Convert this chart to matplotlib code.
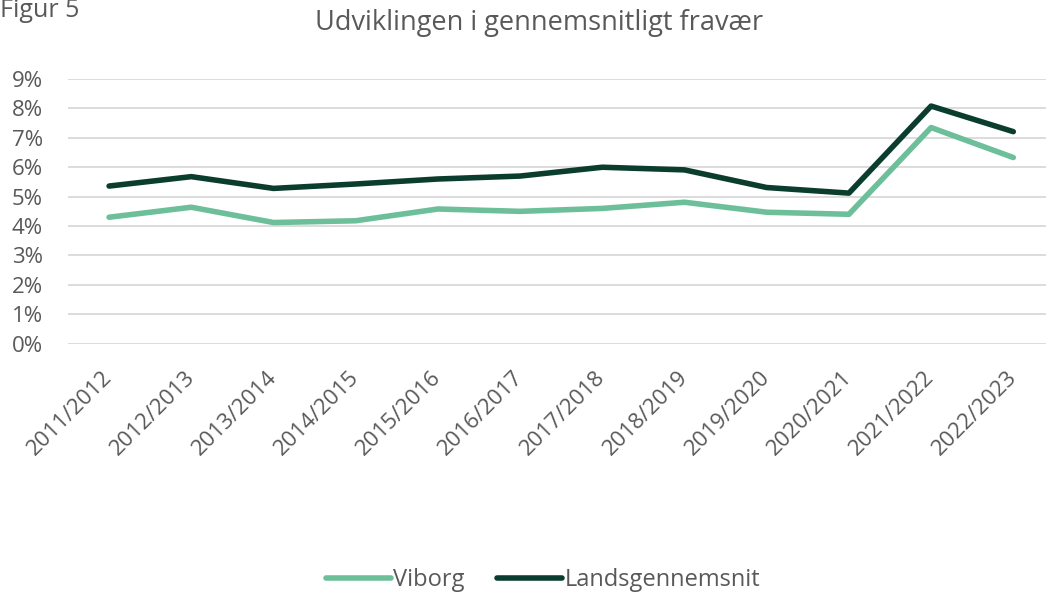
import matplotlib
matplotlib.use("Agg")
import matplotlib.pyplot as plt
from matplotlib.ticker import FuncFormatter, MultipleLocator

categories = ["2011/2012", "2012/2013", "2013/2014", "2014/2015", "2015/2016", "2016/2017",
              "2017/2018", "2018/2019", "2019/2020", "2020/2021", "2021/2022", "2022/2023"]
viborg = [4.30, 4.64, 4.12, 4.18, 4.58, 4.50, 4.60, 4.81, 4.47, 4.40, 7.35, 6.33]
lands = [5.36, 5.68, 5.28, 5.43, 5.60, 5.70, 6.00, 5.91, 5.31, 5.12, 8.08, 7.21]

plt.rcParams['font.family'] = ['Open Sans', 'DejaVu Sans']
txt = '#595959'

fig = plt.figure(figsize=(10.46, 5.95), dpi=100)
ax = fig.add_axes([68/1046, (595-343.7)/595, 1 - 68/1046, (343.7-79)/595])

x = list(range(len(categories)))
ax.plot(x, viborg, color='#6DBF9A', lw=4, label='Viborg', solid_capstyle='round', zorder=3)
ax.plot(x, lands, color='#0B3D2E', lw=4, label='Landsgennemsnit', solid_capstyle='round', zorder=3)

ax.set_ylim(0, 9)
ax.set_xlim(-0.5, -0.5 + 978/82.2)
ax.yaxis.set_major_locator(MultipleLocator(1))
ax.yaxis.set_major_formatter(FuncFormatter(lambda v, p: f"{int(round(v))}%"))
ax.grid(axis='y', color='#d9d9d9', lw=1.3)
ax.set_axisbelow(True)
for s in ax.spines.values():
    s.set_visible(False)
ax.tick_params(length=0, colors=txt)
ax.tick_params(axis='y', pad=18, labelsize=16)
ax.set_xticks(x)
ax.set_xticklabels(categories, rotation=45, ha='right', va='center', rotation_mode='anchor')
ax.tick_params(axis='x', pad=22, labelsize=16)

fig.text(539/1046, 1 - 23/595, 'Udviklingen i gennemsnitligt fravær', ha='center', va='center',
         fontsize=19.5, color=txt)
fig.text(0.0, 1 - 17/595, 'Figur 5', ha='left', va='baseline', fontsize=18, color=txt)

leg = fig.legend(loc='center', bbox_to_anchor=(543/1046, 1 - 580/595), ncol=2, frameon=False,
                 fontsize=17, handlelength=2.75, handletextpad=0.1, columnspacing=1.4,
                 borderpad=0, borderaxespad=0)
for t in leg.get_texts():
    t.set_color(txt)

fig.savefig('out.png', dpi=100)
